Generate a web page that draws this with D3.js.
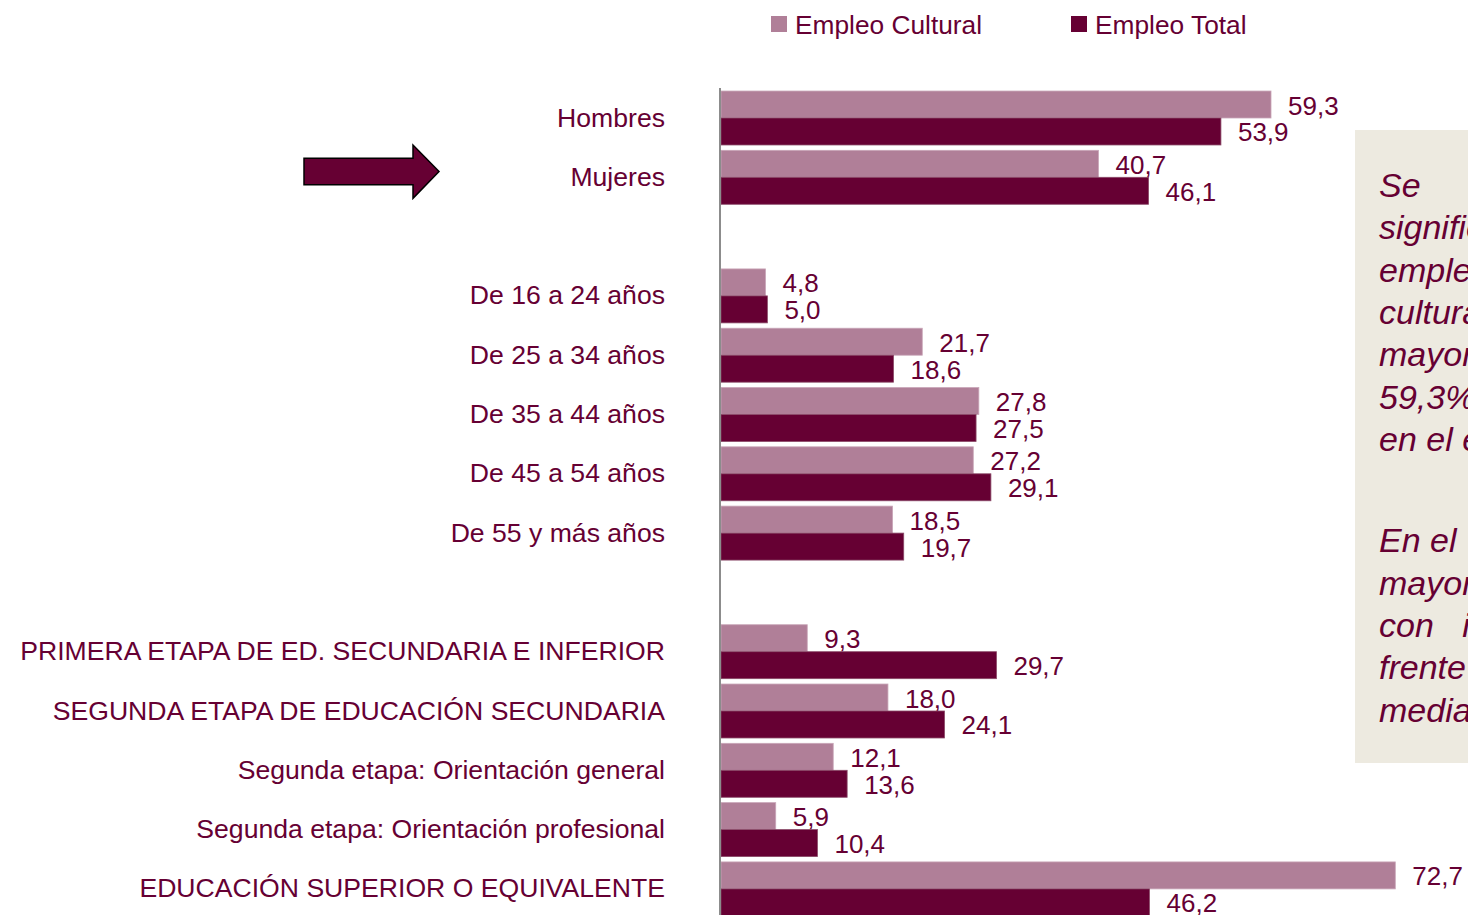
<!DOCTYPE html>
<html><head><meta charset="utf-8">
<script src="https://cdn.jsdelivr.net/npm/d3@7"></script>
<style>
html,body{margin:0;padding:0;background:#fff;overflow:hidden}
svg{display:block;font-family:"Liberation Sans",Arial,sans-serif}
</style></head>
<body>
<svg id="chart" width="1468" height="915"></svg>
<script>
const categories = ["Hombres","Mujeres","_gap1","De 16 a 24 años","De 25 a 34 años","De 35 a 44 años","De 45 a 54 años","De 55 y más años","_gap2","PRIMERA ETAPA DE ED. SECUNDARIA E INFERIOR","SEGUNDA ETAPA DE EDUCACIÓN SECUNDARIA","Segunda etapa: Orientación general","Segunda etapa: Orientación profesional","EDUCACIÓN SUPERIOR O EQUIVALENTE"];
const cultural = [59.3,40.7,null,4.8,21.7,27.8,27.2,18.5,null,9.3,18.0,12.1,5.9,72.7];
const total    = [53.9,46.1,null,5.0,18.6,27.5,29.1,19.7,null,29.7,24.1,13.6,10.4,46.2];
const seriesNames = ["Empleo Cultural","Empleo Total"];
const panelLines = ["Se","significativa","empleo","cultural","mayor","59,3%","en el empleo","","En el","mayor","con   i","frente","media"];

const colCult = "#b07f98", colTot = "#660033", txt = "#660033";
const svg = d3.select("#chart");

const y = d3.scaleBand().domain(categories).range([88.35, 88.35 + 14*59.3]).paddingInner(0.09).paddingOuter(0.045);
const x = d3.scaleLinear().domain([0,80]).range([721, 721 + 80*9.275]);
const sub = d3.scaleBand().domain(seriesNames).range([0, y.bandwidth()]);

const rows = categories.map((c,i)=>({c, vals:[cultural[i], total[i]]})).filter(r=>r.vals[0]!==null);

// bars
const g = svg.append("g");
rows.forEach(r=>{
  r.vals.forEach((v,j)=>{
    const y0 = y(r.c) + sub(seriesNames[j]);
    g.append("rect").attr("x", x(0)).attr("y", y0).attr("width", x(v)-x(0)).attr("height", sub.bandwidth())
      .attr("fill", j===0?colCult:colTot).attr("stroke", j===0?"#c9a6b8":"#8a4a68").attr("stroke-width",0.8);
    g.append("text").attr("x", x(v)+17).attr("y", y0 + sub.bandwidth()/2 + 1)
      .attr("dominant-baseline","central").attr("font-size",26).attr("fill",txt)
      .text(d3.format(".1f")(v).replace(".",","));
  });
  svg.append("text").attr("x",665).attr("y", y(r.c)+y.bandwidth()/2 - 0.5)
    .attr("dominant-baseline","central").attr("text-anchor","end").attr("font-size",26.6).attr("fill",txt).text(r.c);
});

// axis line
svg.append("line").attr("x1",720).attr("x2",720).attr("y1",88).attr("y2",915).attr("stroke","#8c8c8c").attr("stroke-width",2);

// legend
const lx = [771, 1071];
seriesNames.forEach((s,j)=>{
  svg.append("rect").attr("x",lx[j]).attr("y",16).attr("width",16).attr("height",16).attr("fill",j===0?colCult:colTot);
  svg.append("text").attr("x",lx[j]+24).attr("y",24.5).attr("dominant-baseline","central").attr("font-size",26.3).attr("fill",txt).text(s);
});

// arrow
svg.append("path").attr("d","M304,158.3 L413,158.3 L413,145 L439,171.5 L413,198.3 L413,184.7 L304,184.7 Z")
  .attr("fill","#660033").attr("stroke","#000").attr("stroke-width",1.5);

// panel
svg.append("rect").attr("x",1355).attr("y",130).attr("width",120).attr("height",633).attr("fill","#edeae0");
const pt = svg.append("g").attr("font-size",34).attr("font-style","italic").attr("fill",txt);
panelLines.forEach((l,i)=>{
  if(!l) return;
  pt.append("text").attr("x",1379).attr("y",185 + i*42.3 + (i>=8?17:0)).attr("dominant-baseline","central")
    .attr("xml:space","preserve").style("white-space","pre").text(l);
});
</script>
</body></html>
